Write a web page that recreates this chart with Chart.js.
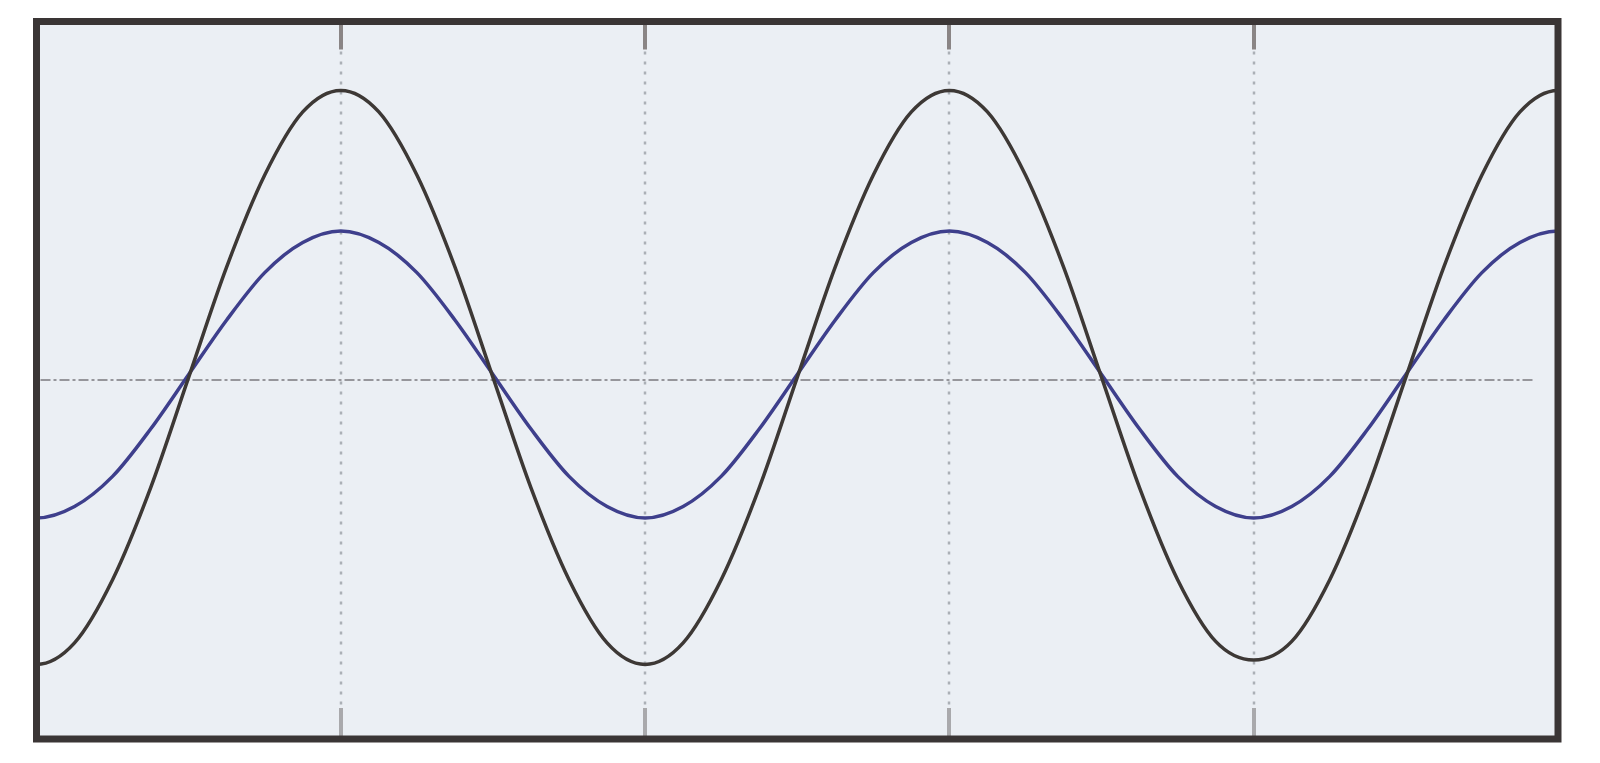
<!DOCTYPE html>
<html>
<head>
<meta charset="utf-8">
<script src="https://cdn.jsdelivr.net/npm/chart.js@4.4.1/dist/chart.umd.min.js"></script>
<style>
  html, body { margin: 0; padding: 0; background: #fff; }
  #wrap { width: 1600px; height: 763px; position: relative; }
</style>
</head>
<body>
<div id="wrap"><canvas id="scope"></canvas></div>
<script>
// --- Data (divisions on x, volts/div on y); one sample past each edge so the trace runs off-screen ---
const timeDiv = [-0.125, 0, 0.125, 0.25, 0.375, 0.5, 0.625, 0.75, 0.875,
  1, 1.125, 1.25, 1.375, 1.5, 1.625, 1.75, 1.875,
  2, 2.125, 2.25, 2.375, 2.5, 2.625, 2.75, 2.875,
  3, 3.125, 3.25, 3.375, 3.5, 3.625, 3.75, 3.875,
  4, 4.125, 4.25, 4.375, 4.5, 4.625, 4.75, 4.875, 5, 5.125];

const traceA = [-1.83, -1.98, -1.83, -1.39, -0.75, 0.02, 0.79, 1.43, 1.87,
  2.02, 1.87, 1.43, 0.79, 0.02, -0.75, -1.39, -1.83,
  -1.98, -1.83, -1.39, -0.75, 0.02, 0.79, 1.43, 1.87,
  2.02, 1.87, 1.43, 0.79, 0.02, -0.75, -1.39, -1.82,
  -1.95, -1.82, -1.39, -0.75, 0.02, 0.79, 1.43, 1.87, 2.02, 1.87];

const traceB = [-0.88, -0.96, -0.88, -0.67, -0.34, 0.04, 0.42, 0.75, 0.96,
  1.04, 0.96, 0.75, 0.42, 0.04, -0.34, -0.67, -0.88,
  -0.96, -0.88, -0.67, -0.34, 0.04, 0.42, 0.75, 0.96,
  1.04, 0.96, 0.75, 0.42, 0.04, -0.34, -0.67, -0.88,
  -0.96, -0.88, -0.67, -0.34, 0.04, 0.42, 0.75, 0.96, 1.04, 0.96];

const gridDivs = [1, 2, 3, 4];

// --- Scope screen: background, graticule, frame ---
const scopeScreen = {
  id: 'scopeScreen',
  beforeDatasetsDraw(chart) {
    const { ctx, chartArea: a, scales: { x, y } } = chart;
    ctx.save();
    ctx.fillStyle = '#ebeff4';
    ctx.fillRect(a.left, a.top, a.right - a.left, a.bottom - a.top);

    // dotted vertical divisions with solid tick stubs
    gridDivs.forEach(d => {
      const px = Math.round(x.getPixelForValue(d));
      ctx.strokeStyle = '#abb0b6';
      ctx.lineWidth = 2.5;
      ctx.setLineDash([3, 7]);
      ctx.beginPath();
      ctx.moveTo(px, a.top + 30);
      ctx.lineTo(px, a.bottom - 32);
      ctx.stroke();
      ctx.setLineDash([]);
      ctx.lineWidth = 4;
      ctx.strokeStyle = '#8a8585';
      ctx.beginPath();
      ctx.moveTo(px, a.top);
      ctx.lineTo(px, a.top + 28);
      ctx.stroke();
      ctx.strokeStyle = '#a9a9ac';
      ctx.beginPath();
      ctx.moveTo(px, a.bottom - 31);
      ctx.lineTo(px, a.bottom);
      ctx.stroke();
    });

    // dash-dot centre line
    const cy = Math.round(y.getPixelForValue(0));
    ctx.strokeStyle = '#96969b';
    ctx.lineWidth = 2;
    ctx.setLineDash([10, 3, 3, 3]);
    ctx.beginPath();
    ctx.moveTo(a.left + 4, cy);
    ctx.lineTo(a.right - 25, cy);
    ctx.stroke();
    ctx.restore();
  },
  afterDatasetsDraw(chart) {
    const { ctx, chartArea: a } = chart;
    ctx.save();
    ctx.strokeStyle = '#3a3535';
    ctx.lineWidth = 7;
    ctx.strokeRect(a.left, a.top, a.right - a.left, a.bottom - a.top);
    ctx.restore();
  },
};

new Chart(document.getElementById('scope'), {
  type: 'line',
  data: {
    datasets: [
      {
        label: 'CH1',
        data: timeDiv.map((t, i) => ({ x: t, y: traceA[i] })),
        borderColor: '#3d3835',
        borderWidth: 3.5,
        pointRadius: 0,
        cubicInterpolationMode: 'monotone',
        fill: false,
      },
      {
        label: 'CH2',
        data: timeDiv.map((t, i) => ({ x: t, y: traceB[i] })),
        borderColor: '#3e3f8c',
        borderWidth: 3.5,
        pointRadius: 0,
        cubicInterpolationMode: 'monotone',
        fill: false,
      },
    ],
  },
  options: {
    responsive: true,
    maintainAspectRatio: false,
    animation: false,
    layout: { padding: { left: 36.5, right: 42, top: 21.5, bottom: 24 } },
    plugins: { legend: { display: false }, tooltip: { enabled: false } },
    scales: {
      x: { type: 'linear', min: 0, max: 5, display: false },
      y: { type: 'linear', min: -2.5, max: 2.5, display: false },
    },
  },
  plugins: [scopeScreen],
});
</script>
</body>
</html>
